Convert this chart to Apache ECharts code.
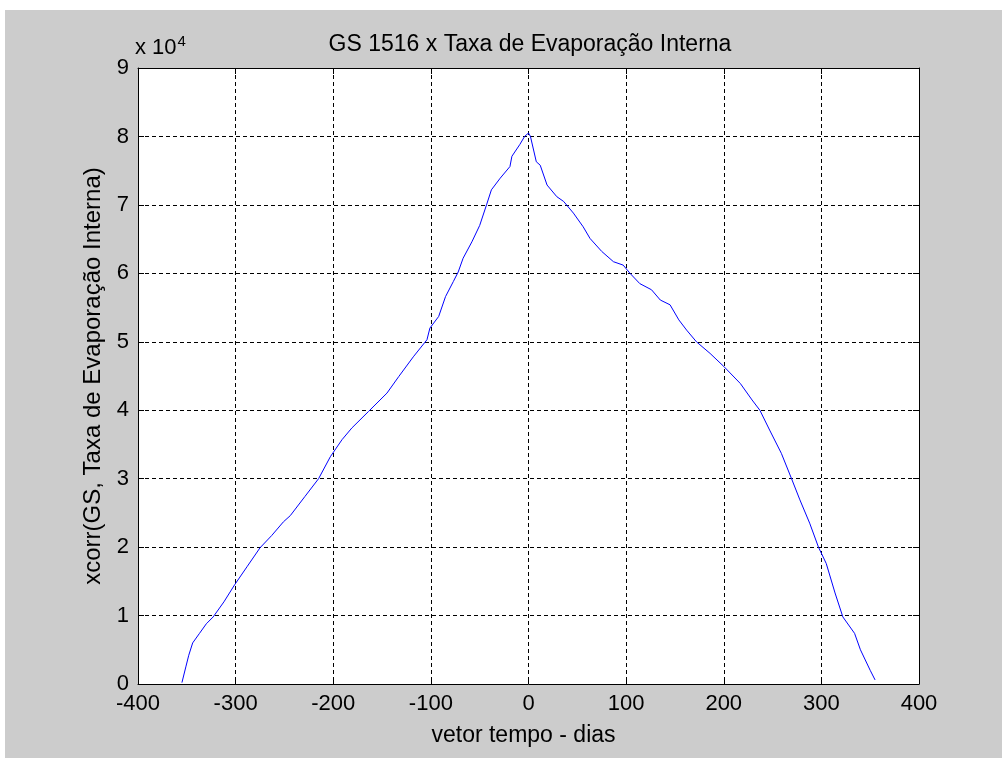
<!DOCTYPE html>
<html>
<head>
<meta charset="utf-8">
<script src="https://cdn.jsdelivr.net/npm/echarts@6/dist/echarts.min.js"></script>
<style>
html,body{margin:0;padding:0;background:#ffffff;width:1002px;height:758px;overflow:hidden;}
#chart{position:absolute;left:5px;top:10px;width:997px;height:748px;background:#cccccc;}
</style>
</head>
<body>
<div id="chart"></div>
<script>
// lag (days) and xcorr values
const lags = [-355,-351,-348,-344,-337,-330,-323,-312,-301,-288,-275,-263,-251,-244,-229,-215,-203,-191,-181,-164,-145,-133,-118,-104,-101,-92,-85,-77,-72,-67,-58,-50,-43,-38,-29,-19,-17,-9,-4,0,2,8,12,19,29,36,46,56,63,75,87,97,104,114,126,135,145,154,162,172,186,200,217,229,237,247,259,270,278,288,297,305,314,322,334,340,350,355];
const xcorrValues = [200,2500,4200,6000,7400,8800,9800,12000,14500,17200,19900,21700,23700,24600,27400,30000,33200,35700,37400,39800,42500,44900,47800,50300,52000,53700,56600,58800,60200,62200,64600,67000,70000,72200,73900,75600,77100,78800,80000,80500,80000,76300,75800,72900,71200,70500,68800,66800,65100,63200,61700,61200,60000,58500,57600,56100,55400,53200,51700,50000,48300,46400,43900,41500,40000,37100,33700,29800,26900,23500,20000,17600,13300,9800,7400,5000,2000,600];
const xTicks = [-400,-300,-200,-100,0,100,200,300,400];
const yTicks = [0,10000,20000,30000,40000,50000,60000,70000,80000,90000];
const titleText = 'GS 1516 x Taxa de Evaporação Interna';
const xLabel = 'vetor tempo - dias';
const yLabel = 'xcorr(GS, Taxa de Evaporação Interna)';

const FONT = '"Liberation Sans", Arial, sans-serif';
const chart = echarts.init(document.getElementById('chart'), null, {renderer:'canvas'});
const dash = [4,3];
const seriesData = lags.map((l,i)=>[l, xcorrValues[i]]);
const baseAxisLine = {show:true, onZero:false, lineStyle:{color:'#000', width:1}};
chart.setOption({
  backgroundColor:'#cccccc',
  animation:false,
  title:{text:titleText, left:520, textAlign:'center', top:18, textStyle:{fontFamily:FONT, fontSize:23, fontWeight:'normal', color:'#000'}},
  grid:{left:133, top:58, width:781, height:616, show:true, backgroundColor:'#ffffff', borderWidth:0},
  xAxis:[{
    type:'value', min:xTicks[0], max:xTicks[xTicks.length-1], interval:100,
    position:'bottom',
    axisLine:baseAxisLine,
    axisTick:{show:true, inside:true, length:6, lineStyle:{color:'#000'}},
    axisLabel:{fontFamily:FONT, fontSize:22, color:'#000', margin:9},
    splitLine:{show:true, lineStyle:{color:'#000', type:dash, width:1}},
    name:xLabel, nameLocation:'middle', nameGap:40,
    nameTextStyle:{fontFamily:FONT, fontSize:23, color:'#000', padding:[0,10,0,0]}
  },{
    type:'value', min:xTicks[0], max:xTicks[xTicks.length-1], interval:100,
    position:'top',
    axisLine:baseAxisLine,
    axisTick:{show:true, inside:true, length:6, lineStyle:{color:'#000'}},
    axisLabel:{show:false}, splitLine:{show:false}
  }],
  yAxis:[{
    type:'value', min:yTicks[0], max:yTicks[yTicks.length-1], interval:10000,
    position:'left',
    axisLine:baseAxisLine,
    axisTick:{show:true, inside:true, length:6, lineStyle:{color:'#000'}},
    axisLabel:{fontFamily:FONT, fontSize:22, color:'#000', margin:9, formatter:v=>String(v/10000)},
    splitLine:{show:true, lineStyle:{color:'#000', type:dash, width:1}},
    name:yLabel, nameLocation:'middle', nameGap:32, nameRotate:90,
    nameTextStyle:{fontFamily:FONT, fontSize:24, color:'#000'}
  },{
    type:'value', min:yTicks[0], max:yTicks[yTicks.length-1], interval:10000,
    position:'right',
    axisLine:baseAxisLine,
    axisTick:{show:true, inside:true, length:6, lineStyle:{color:'#000'}},
    axisLabel:{show:false}, splitLine:{show:false}
  }],
  graphic:[{
    type:'text', left:130, top:24,
    style:{text:'x 10{s|4}', rich:{s:{fontFamily:FONT, fontSize:15, verticalAlign:'top', padding:[0,0,13,1]}}, fontFamily:FONT, fontSize:22, fill:'#000'}
  }],
  series:[{
    type:'line', data:seriesData, xAxisIndex:0, yAxisIndex:0,
    showSymbol:false, symbol:'none',
    lineStyle:{color:'#0000ff', width:1}, z:5
  }]
});
</script>
</body>
</html>
